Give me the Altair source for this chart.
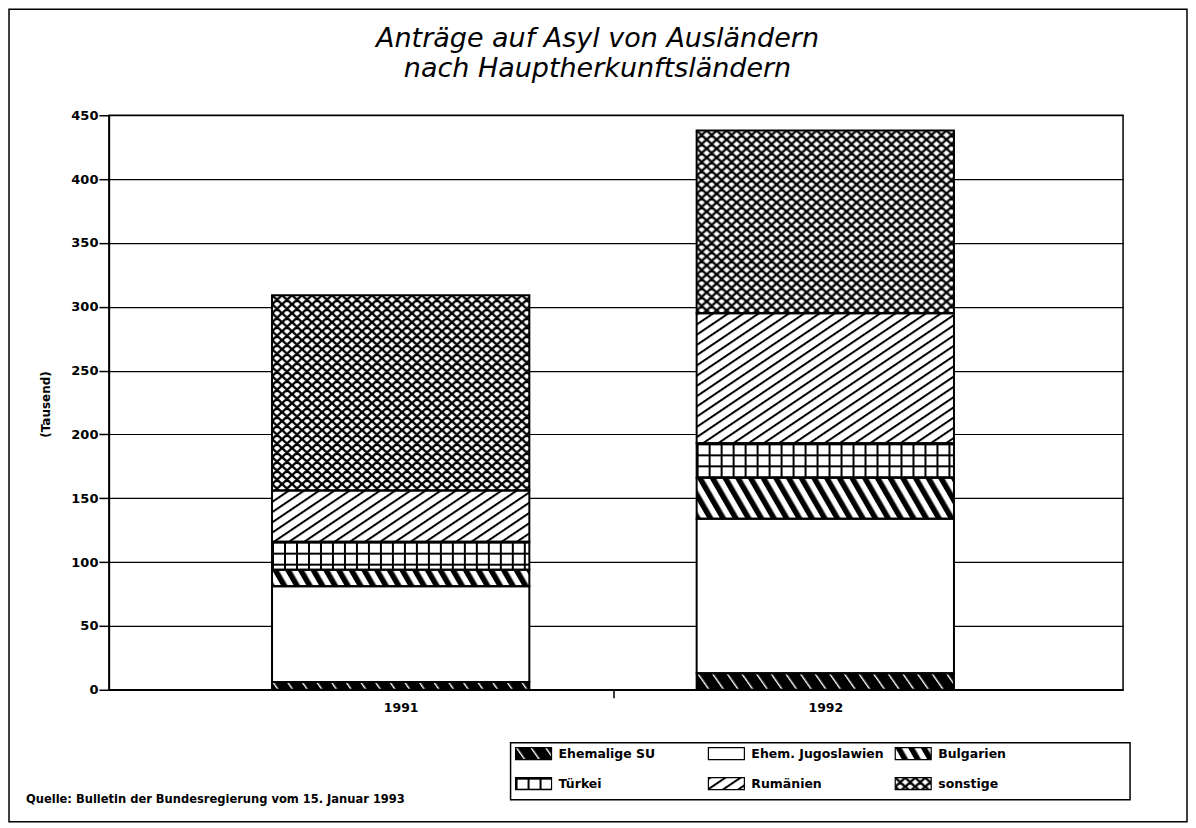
import base64
import altair as alt
import pandas as pd

# ---------------- data (in thousands) ----------------
YEARS = [1991, 1992]
CATEGORIES = ["Ehemalige SU", "Ehem. Jugoslawien", "Bulgarien", "Türkei", "Rumänien", "sonstige"]
VALUES_1991 = [6, 75, 13, 22, 40, 153]
VALUES_1992 = [13, 121, 32, 27, 102, 143]
TITLE_LINES = ["Anträge auf Asyl von Ausländern", "nach Hauptherkunftsländern"]
Y_TITLE = "(Tausend)"
SOURCE = "Quelle: Bulletin der Bundesregierung vom 15. Januar 1993"
Y_TICKS = list(range(0, 451, 50))

# ---------------- hatch patterns (styles) ----------------
def pattern_uri(inner, w, h, rot=0, bg="white"):
    tr = f' patternTransform="rotate({rot})"' if rot else ""
    svg = (
        '<svg xmlns="http://www.w3.org/2000/svg">'
        f'<defs><pattern id="p" patternUnits="userSpaceOnUse" width="{w}" height="{h}"{tr}>{inner}</pattern></defs>'
        f'<rect x="0" y="0" width="100%" height="100%" fill="{bg}"/>'
        '<rect x="0" y="0" width="100%" height="100%" fill="url(#p)"/></svg>'
    )
    return "data:image/svg+xml;base64," + base64.b64encode(svg.encode("utf-8")).decode("ascii")

def crosshatch(w, h, sw):
    d = ""
    for dx in (-w, 0, w):
        for dy in (-h, 0, h):
            d += f"M{dx},{dy}L{dx + w},{dy + h}M{dx + w},{dy}L{dx},{dy + h}"
    return f'<path d="{d}" stroke="black" stroke-width="{sw}" fill="none"/>'

PATTERNS = {
    "Ehemalige SU": pattern_uri('<rect x="0" y="0" width="1.4" height="12" fill="white"/>', 12, 12, -35, bg="black"),
    "Ehem. Jugoslawien": pattern_uri("", 10, 10),
    "Bulgarien": pattern_uri('<rect x="0" y="0" width="5.5" height="11" fill="black"/>', 11, 11, -30),
    "Türkei": pattern_uri('<rect x="0" y="0" width="12" height="11" fill="black"/>'
                          '<rect x="2" y="2" width="10" height="9" fill="white"/>', 12, 11),
    "Rumänien": pattern_uri('<rect x="0" y="0" width="10" height="2" fill="black"/>', 10, 8.5, -34),
    "sonstige": pattern_uri(crosshatch(10, 9, 2.4), 10, 9),
}

rows = []
for year, vals in zip(YEARS, [VALUES_1991, VALUES_1992]):
    for i, (c, v) in enumerate(zip(CATEGORIES, vals)):
        rows.append({"year": year, "cat": c, "order": i, "value": v, "url": PATTERNS[c]})
df = pd.DataFrame(rows)

W, H = 1015, 575
FONT = "DejaVu Sans"
HALF = 0.303

xscale = alt.Scale(domain=[1990.3129, 1992.7012], nice=False, zero=False)
yscale = alt.Scale(domain=[0, 450], nice=False)

xaxis = alt.Axis(
    values=[1991, 1991.5, 1992], format="d", title=None, grid=False,
    labelExpr="datum.value === 1991.5 ? '' : datum.label",
    tickColor={"condition": {"test": "datum.value === 1991.5", "value": "black"}, "value": "transparent"},
    tickSize=8, tickWidth=1.5, labelPadding=4, domainColor="black", domainWidth=1.5,
    labelFont=FONT, labelFontSize=12.5, labelFontWeight="bold", labelColor="black",
)
yaxis = alt.Axis(
    values=Y_TICKS, title=Y_TITLE, grid=True, gridColor="black", gridWidth=1.2,
    domainColor="black", domainWidth=1.5, tickColor="black", tickWidth=1.5, tickSize=10,
    labelPadding=1, labelFont=FONT, labelFontSize=13, labelFontWeight="bold", labelColor="black",
    titleFont=FONT, titleFontSize=12, titleFontWeight="bold", titleColor="black",
    titleX=-63, titleY=289, titleAlign="center", titleBaseline="middle",
)

base = alt.Chart(df).transform_stack(
    stack="value", as_=["y0", "y1"], groupby=["year"], sort=[alt.SortField("order", "ascending")]
).transform_calculate(
    x0=f"datum.year - {HALF}", x1=f"datum.year + {HALF}"
)

bars_img = base.mark_image(aspect=False).encode(
    x=alt.X("x0:Q", scale=xscale, axis=xaxis),
    x2="x1:Q",
    y=alt.Y("y1:Q", scale=yscale, axis=yaxis),
    y2="y0:Q",
    url="url:N",
)
bars_line = base.mark_rect(fillOpacity=0, stroke="black", strokeWidth=2).encode(
    x=alt.X("x0:Q", scale=xscale), x2="x1:Q",
    y=alt.Y("y1:Q", scale=yscale), y2="y0:Q",
)

one = pd.DataFrame({"a": [0]})

def text_layer(txt, x, y, size, weight="normal", style="normal", align="left", baseline="middle", font=FONT):
    return alt.Chart(one).mark_text(
        font=font, fontSize=size, fontWeight=weight, fontStyle=style,
        align=align, baseline=baseline, color="black",
    ).encode(x=alt.value(x), y=alt.value(y), text=alt.value(txt))

def box_layer(x, x2, y, y2, width=1.5):
    return alt.Chart(one).mark_rect(fillOpacity=0, stroke="black", strokeWidth=width).encode(
        x=alt.value(x), x2=alt.value(x2), y=alt.value(y), y2=alt.value(y2)
    )

layers = [bars_img, bars_line]

# outer frame and title
layers.append(box_layer(-100, 1079, -106, 707, 1.5))
layers.append(text_layer(TITLE_LINES[0], 489, -68, 27, style="italic", align="center", baseline="alphabetic"))
layers.append(text_layer(TITLE_LINES[1], 489, -38, 27, style="italic", align="center", baseline="alphabetic"))

# legend
layers.append(box_layer(402, 1022, 628, 685, 1.5))
SW_X = [407, 600, 787]
SW_Y = [633, 663]
for i, c in enumerate(CATEGORIES):
    col, row = i % 3, i // 3
    sx, sy = SW_X[col], SW_Y[row]
    layers.append(
        alt.Chart(one).mark_image(aspect=False, width=36, height=12, align="left", baseline="top").encode(
            x=alt.value(sx), y=alt.value(sy), url=alt.value(PATTERNS[c])
        )
    )
    layers.append(box_layer(sx, sx + 36, sy, sy + 12, 1.2))
    layers.append(text_layer(c, sx + 43, sy + 6, 12.5, weight="bold"))

# source
layers.append(text_layer(SOURCE, -83, 685, 11.5, weight="bold"))

chart = alt.layer(*layers).properties(
    width=W, height=H, padding=0, background="white"
).configure_view(stroke="black", strokeWidth=1.5)

chart.save("out.html", embed_options={"renderer": "svg", "actions": False})
